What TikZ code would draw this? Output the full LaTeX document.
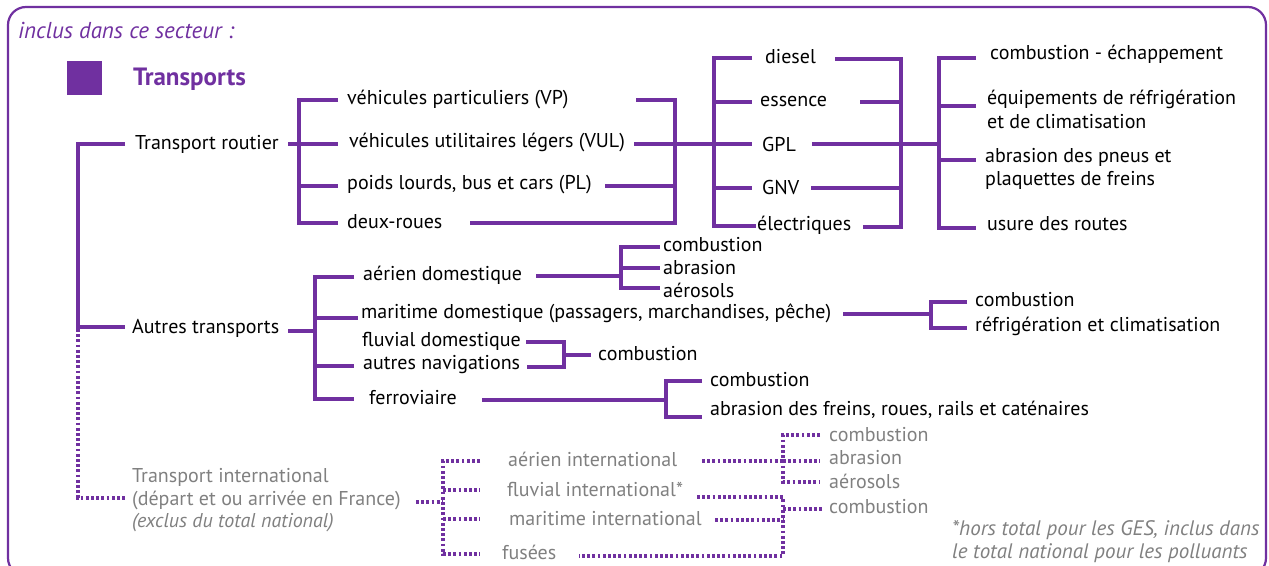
\documentclass[tikz,border=0pt]{standalone}
\usepackage{fontspec}
\setmainfont{PT Sans}
\definecolor{pur}{HTML}{7030A0}
\definecolor{gry}{HTML}{808080}
\tikzset{
  ln/.style={draw=pur, line width=3.4pt},
  dl/.style={draw=pur, line width=3.2pt, dash pattern=on 2.8pt off 2.4pt},
  tx/.style={anchor=west, inner sep=0pt, font=\fontsize{20}{24}\selectfont},
  gx/.style={tx, text=gry},
}
\begin{document}
\begin{tikzpicture}[x=1pt,y=-1pt]
\useasboundingbox (0,0) rectangle (1269,565);
\begin{scope}
\clip (0,0) rectangle (1269,565);
\draw[pur, line width=2.2pt, rounded corners=18pt] (8,7) rectangle (1266,576);
\end{scope}
% header
\node[tx, text=pur, font=\fontsize{23}{26}\selectfont\itshape] (hdr) at (18,30) {inclus dans ce secteur :};
\node[fill=pur, minimum width=35pt, minimum height=34pt, inner sep=0pt] (sq) at (84,78) {};
\node[tx, text=pur, font=\fontsize{25}{28}\selectfont\bfseries] (ttl) at (133,79) {Transports};
% level 1
\node[tx] (tr) at (135,144) {Transport routier};
\node[tx] (at) at (132,328) {Autres transports};
\node[gx] (ti1) at (132,477) {Transport international};
\node[gx] (ti2) at (132,500) {(départ et ou arrivée en France)};
\node[gx, font=\fontsize{20}{24}\selectfont\itshape] (ti3) at (132,523) {(exclus du total national)};
\draw[ln] (125,144) -- (78,144) -- (78,327) -- (125,327);
\draw[dl] (78,329) -- (78,498) -- (125,498);
% road vehicles
\node[tx] (vp) at (347,99) {véhicules particuliers (VP)};
\node[tx] (vul) at (349,142) {véhicules utilitaires légers (VUL)};
\node[tx] (pl) at (347,185) {poids lourds, bus et cars (PL)};
\node[tx] (dr) at (347,222) {deux-roues};
\draw[ln] (288,144) -- (299,144);
\draw[ln] (338,100) -- (299,100) -- (299,223) -- (338,223);
\draw[ln] (299,144) -- (338,144);
\draw[ln] (299,186) -- (338,186);
\draw[ln] (636,100) -- (675,100) -- (675,223) -- (470,223);
\draw[ln] (634,144) -- (675,144);
\draw[ln] (605,186) -- (675,186);
\draw[ln] (675,144) -- (714,144);
% fuels
\node[tx] (dsl) at (765,57) {diesel};
\node[tx] (ess) at (760,101) {essence};
\node[tx] (gpl) at (762,144) {GPL};
\node[tx] (gnv) at (762,187) {GNV};
\node[tx] (ele) at (757,225) {électriques};
\draw[ln] (752,58) -- (714,58) -- (714,226) -- (756,226);
\draw[ln] (714,102) -- (752,102);
\draw[ln] (714,144) -- (752,144);
\draw[ln] (714,188) -- (752,188);
\draw[ln] (835,59) -- (901,59) -- (901,227) -- (863,227);
\draw[ln] (860,102) -- (901,102);
\draw[ln] (812,144) -- (901,144);
\draw[ln] (811,188) -- (901,188);
\draw[ln] (901,144) -- (939,144);
% road emissions
\node[tx] (ce) at (990,54) {combustion - échappement};
\node[tx] (eq1) at (987,99) {équipements de réfrigération};
\node[tx] (eq2) at (987,122) {et de climatisation};
\node[tx] (ab1) at (985,157) {abrasion des pneus et};
\node[tx] (ab2) at (985,180) {plaquettes de freins};
\node[tx] (us) at (987,224) {usure des routes};
\draw[ln] (976,58) -- (939,58) -- (939,228) -- (976,228);
\draw[ln] (939,106) -- (976,106);
\draw[ln] (939,160) -- (976,160);
% other transports
\draw[ln] (288,331) -- (315,331);
\node[tx] (aer) at (363,275) {aérien domestique};
\node[tx] (mar) at (361,313) {maritime domestique (passagers, marchandises, pêche)};
\node[tx] (flu) at (362,341) {fluvial domestique};
\node[tx] (aut) at (363,365) {autres navigations};
\node[tx] (fer) at (369,398) {ferroviaire};
\draw[ln] (354,277) -- (315,277) -- (315,399) -- (354,399);
\draw[ln] (315,318) -- (358,318);
\draw[ln] (315,366) -- (354,366);
% aerien domestic
\node[tx] (ac) at (663,245) {combustion};
\node[tx] (aa) at (663,268) {abrasion};
\node[tx] (as) at (663,290) {aérosols};
\draw[ln] (536,276) -- (621,276);
\draw[ln] (660,247) -- (621,247) -- (621,288) -- (660,288);
\draw[ln] (621,268) -- (660,268);
% maritime domestic
\node[tx] (mc) at (975,300) {combustion};
\node[tx] (mr) at (975,326) {réfrigération et climatisation};
\draw[ln] (843,314) -- (931,314);
\draw[ln] (967,302) -- (931,302) -- (931,328) -- (967,328);
% fluvial
\draw[ln] (526,342) -- (564,342) -- (564,367) -- (527,367);
\draw[ln] (564,355) -- (591,355);
\node[tx] (fc) at (598,354) {combustion};
% rail
\draw[ln] (482,400) -- (666,400);
\draw[ln] (702,381) -- (666,381) -- (666,417) -- (702,417);
\node[tx] (rc) at (710,380) {combustion};
\node[tx] (ra) at (710,410) {abrasion des freins, roues, rails et caténaires};
% international
\node[gx] (ia) at (508,459) {aérien international};
\node[gx] (if) at (507,489) {fluvial international*};
\node[gx] (im) at (509,519) {maritime international};
\node[gx] (ifu) at (502,552) {fusées};
\draw[dl] (416,502) -- (443,502);
\draw[dl] (480,461) -- (443,461) -- (443,554) -- (480,554);
\draw[dl] (443,490) -- (480,490);
\draw[dl] (443,519) -- (480,519);
\draw[dl] (702,461) -- (783,461);
\draw[dl] (820,435) -- (783,435) -- (783,482) -- (820,482);
\draw[dl] (783,461) -- (820,461);
\node[gx] (ic1) at (829,435) {combustion};
\node[gx] (ia1) at (829,458) {abrasion};
\node[gx] (ias) at (829,481) {aérosols};
\draw[dl] (697,497) -- (783,497) -- (783,556) -- (579,556);
\draw[dl] (715,520) -- (783,520);
\draw[dl] (783,509) -- (822,509);
\node[gx] (ic2) at (829,507) {combustion};
% footnote
\node[gx, font=\fontsize{21}{24}\selectfont\itshape] (fn1) at (952,530) {*hors total pour les GES, inclus dans};
\node[gx, font=\fontsize{21}{24}\selectfont\itshape] (fn2) at (952,553) {le total national pour les polluants};
\end{tikzpicture}
\end{document}
